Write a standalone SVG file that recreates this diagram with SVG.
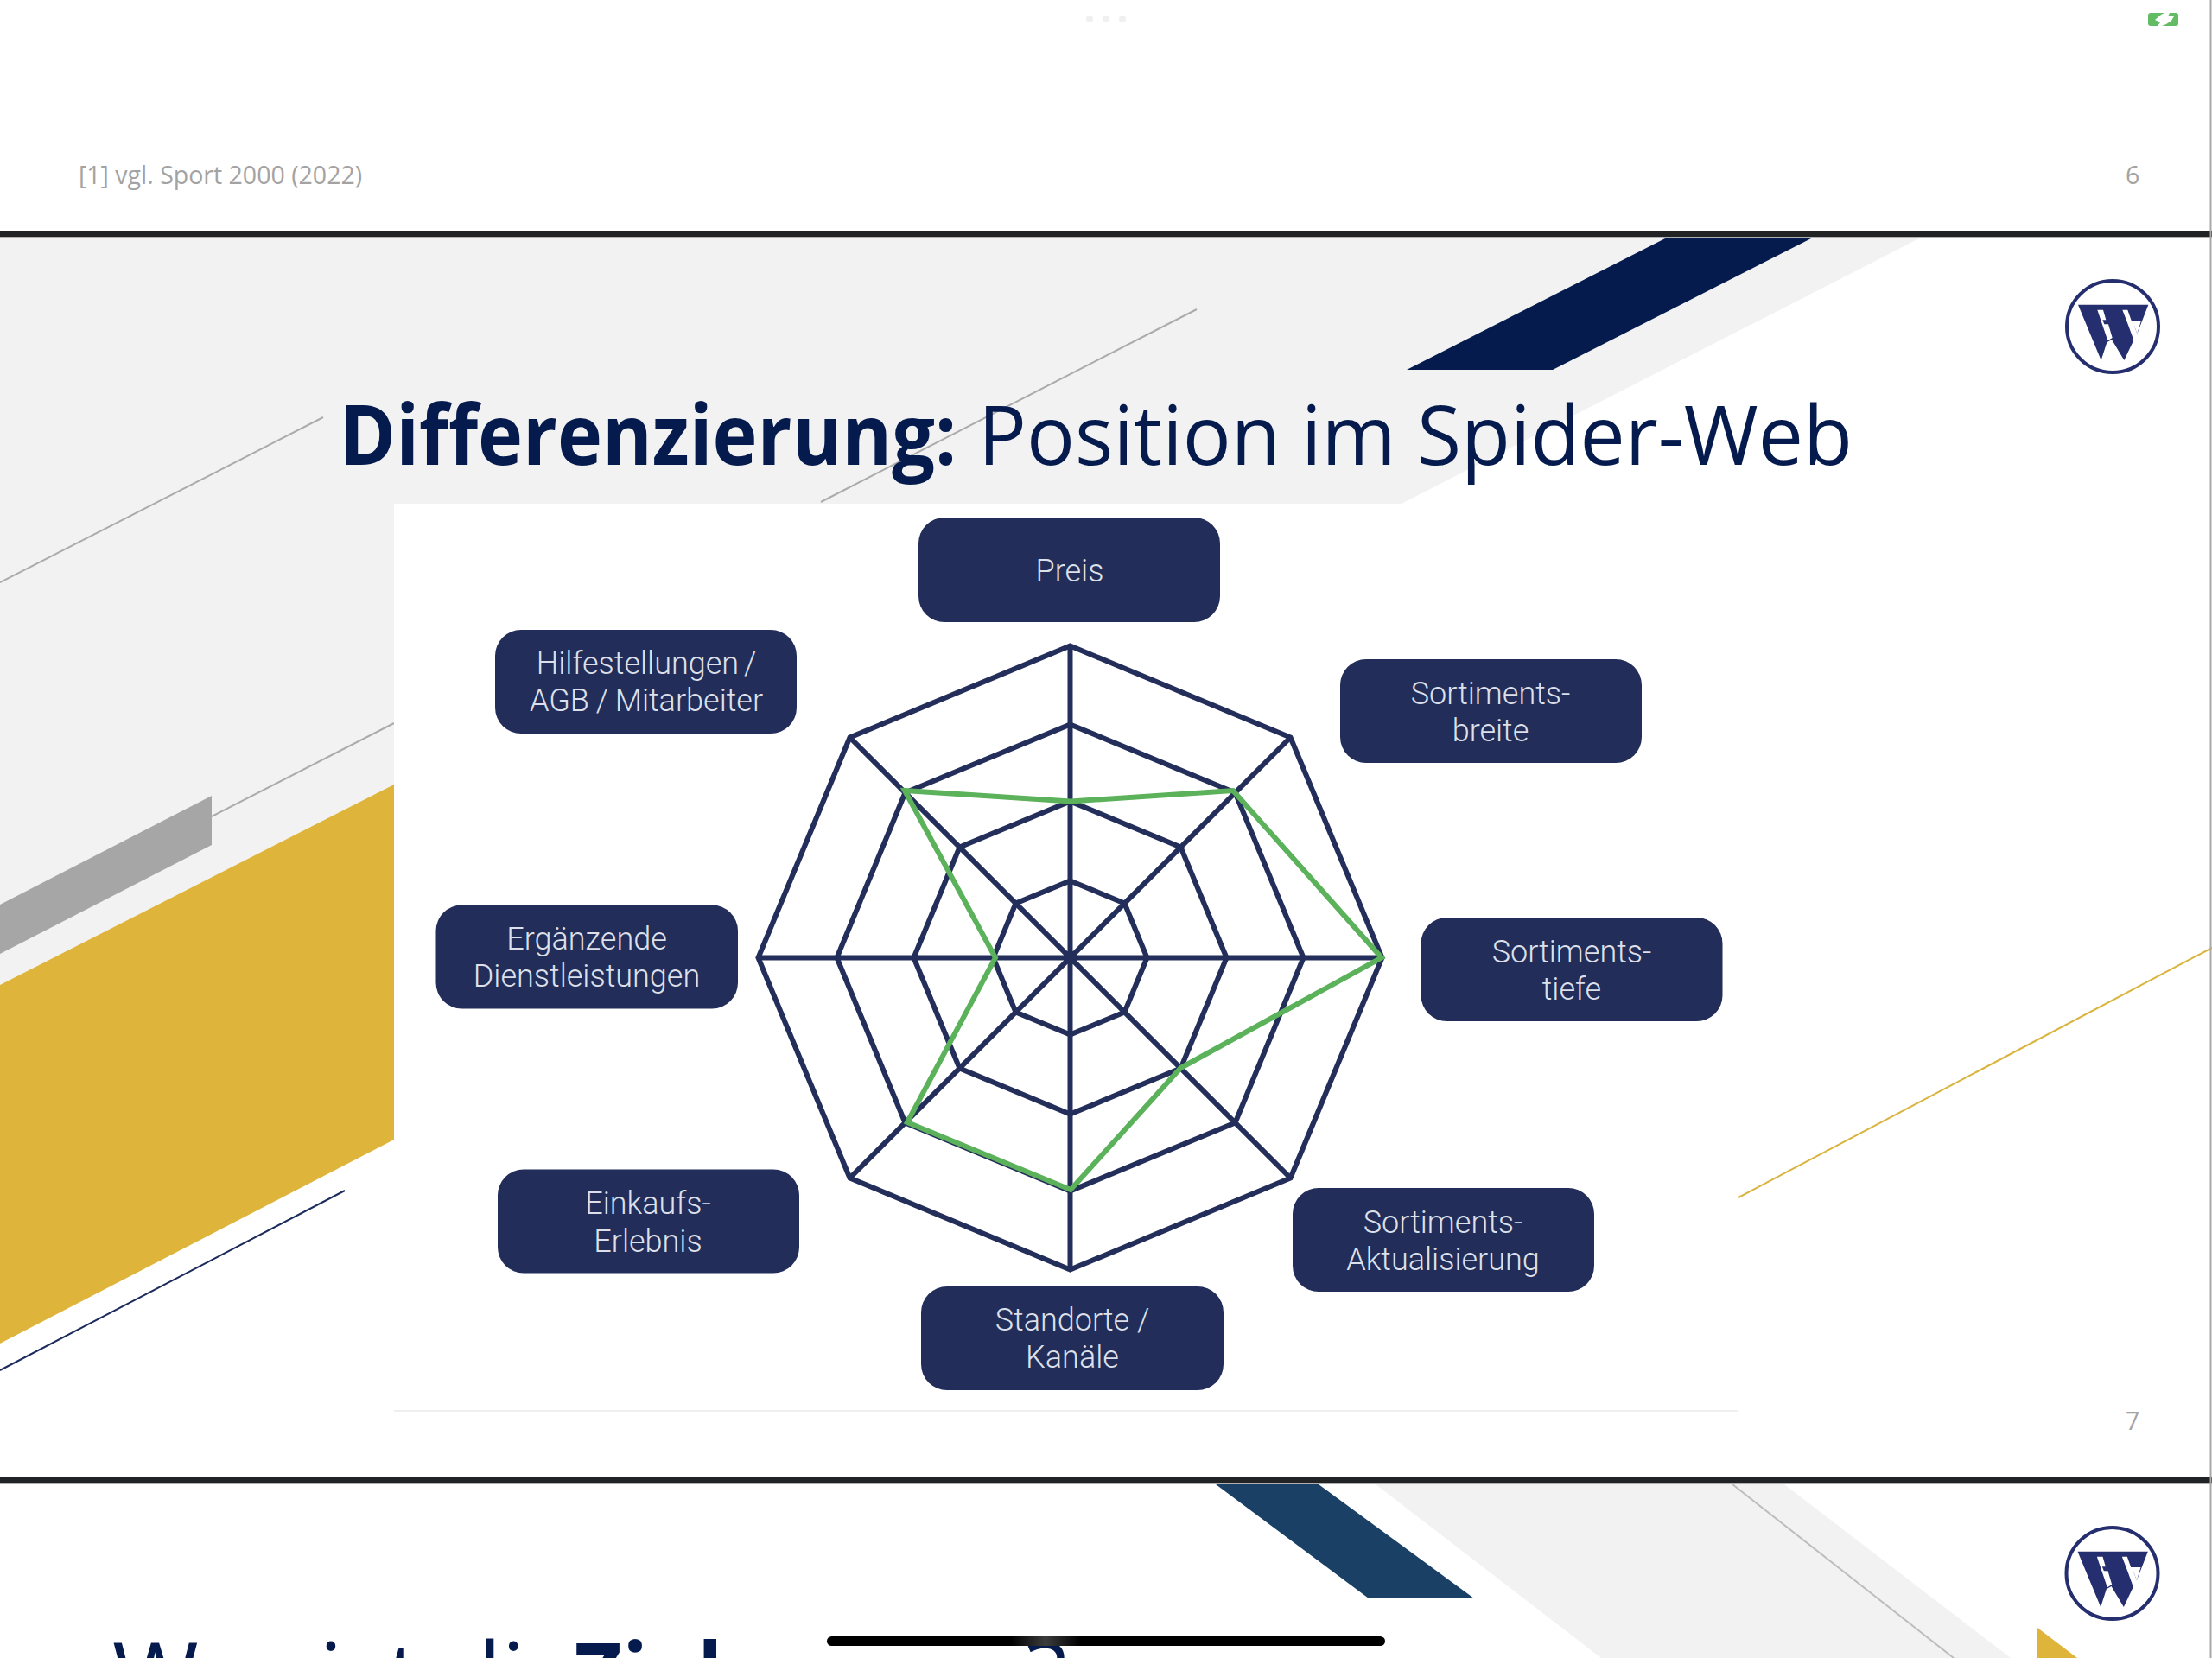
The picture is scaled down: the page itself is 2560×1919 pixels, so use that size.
<svg xmlns="http://www.w3.org/2000/svg" width="2560" height="1919" viewBox="0 0 2560 1919">
<style>
.title{font-family:"Open Sans","Noto Sans",sans-serif;font-size:96px;fill:#051A4D}
.big{font-size:108px}
.b{font-weight:700}
.foot{font-family:"Open Sans","Noto Sans",sans-serif;font-size:28.5px;fill:#A3A3A3}
.box{fill:#222D59}
.lbl{font-family:Roboto,"Liberation Sans",sans-serif;font-weight:300;font-size:36px;fill:#DDE0EA;text-anchor:middle}
.ring{fill:none;stroke:#232E5A;stroke-width:6;stroke-linejoin:miter}
.spoke{stroke:#232E5A;stroke-width:6;fill:none}
.logoring{fill:#fff;stroke:#252E6E;stroke-width:4}
.logo{fill:#252E6E}
.logocut{fill:#fff}
</style>
<defs>
<linearGradient id="glow" x1="0" x2="1" y1="0" y2="0"><stop offset="0" stop-color="#000"/><stop offset=".5" stop-color="#3C3C3C"/><stop offset="1" stop-color="#000"/></linearGradient>
<g id="logomark">
<circle class="logoring" cx="0" cy="0" r="53"/>
<g transform="translate(-164.3 -121) scale(.3333)">
<polygon class="logo" points="373,287 617,287 578,388 568,360 548,360 566,410 533,480 490,408 473,418 453,480"/>
<polygon class="logocut" points="440,305 460,305 470,340 458,340 464,355 478,355 492,402 476,412"/>
<polygon class="logocut" points="527,305 545,305 558,342 592,342 578,388 568,360 548,360"/>
</g>
</g>
</defs>
<rect width="2560" height="1919" fill="#fff"/>

<g id="slide-6">
<circle cx="1261" cy="22" r="4" fill="#F0F0F0"/><circle cx="1280" cy="22" r="4" fill="#F0F0F0"/><circle cx="1299" cy="22" r="4" fill="#F0F0F0"/>
<g id="expand-icon">
<rect x="2486" y="15" width="35" height="15" rx="3" fill="#63BB63"/>
<polygon points="2494,23 2501,17 2505,15 2511,15 2509,19 2516,19 2513,24 2507,28 2502,30 2497,30 2500,26" fill="#fff"/>
</g>
<text class="foot" x="91" y="213">[1] vgl. Sport 2000 (2022)</text>
<text class="foot" x="2460" y="213">6</text>
</g>

<g id="dividers">
<rect x="0" y="267" width="2560" height="7" fill="#222325"/>
<rect x="0" y="1710" width="2560" height="7" fill="#222325"/>
<rect x="0" y="274" width="2560" height="1" fill="#B0B0B0"/>
<rect x="0" y="1717" width="2560" height="1" fill="#B0B0B0"/>
</g>

<g id="slide-7-background">
<polygon points="0,275 2223,275 1622,583 456,583 456,908 0,1140" fill="#F2F2F2"/>
<polygon points="1929,275 2098,275 1797,428 1628,428" fill="#051A4D"/>
<polygon points="0,1047 245,921 245,978 0,1104" fill="#A6A6A6"/>
<polygon points="0,1140 456,908 456,1319 0,1555" fill="#DFB43B"/>
<line x1="245" y1="945" x2="456" y2="837" stroke="#ABABAB" stroke-width="2"/>
<line x1="0" y1="674" x2="374" y2="483" stroke="#ABABAB" stroke-width="2"/>
<line x1="950" y1="581" x2="1385" y2="358" stroke="#ABABAB" stroke-width="2"/>
<line x1="0" y1="1586" x2="399" y2="1378" stroke="#1C2B5C" stroke-width="2"/>
<line x1="2012" y1="1386" x2="2560" y2="1097" stroke="#D9B43F" stroke-width="2"/>
</g>

<g id="slide-7-title">
<text class="title b" x="393" y="538" textLength="714" lengthAdjust="spacingAndGlyphs">Differenzierung:</text>
<text class="title" x="1132" y="538" textLength="1012" lengthAdjust="spacingAndGlyphs">Position im Spider-Web</text>
</g>
<use id="logo-7" href="#logomark" x="2445" y="378"/>
<text class="foot" x="2460" y="1655">7</text>

<g id="picture">
<rect x="456" y="583" width="1555" height="1050" fill="#fff"/>
<line x1="456" y1="1633" x2="2011" y2="1633" stroke="#EFEFEF" stroke-width="2"/>
</g>

<g id="connectors">
<g id="web">
<polygon class="ring" points="1238.5,747.5 1493.5,853.5 1599.5,1108.5 1493.5,1363.5 1238.5,1469.5 983.5,1363.5 877.5,1108.5 983.5,853.5"/>
<polygon class="ring" points="1238.5,838.5 1429.5,917.5 1508.5,1108.5 1429.5,1299.5 1238.5,1378.5 1047.5,1299.5 968.5,1108.5 1047.5,917.5"/>
<polygon class="ring" points="1238.5,927.5 1366.5,980.5 1419.5,1108.5 1366.5,1236.5 1238.5,1289.5 1110.5,1236.5 1057.5,1108.5 1110.5,980.5"/>
<polygon class="ring" points="1238.5,1019.5 1301.5,1045.5 1327.5,1108.5 1301.5,1171.5 1238.5,1197.5 1175.5,1171.5 1149.5,1108.5 1175.5,1045.5"/>
<path class="spoke" d="M1238.5 747.5V1469.5M877.5 1108.5H1599.5M983.5 853.5L1493.5 1363.5M1493.5 853.5L983.5 1363.5"/>
</g>
<polygon id="profile" points="1047,915 1239,927.5 1427,915 1599,1108.5 1366.5,1236 1239,1377 1050,1299 1152,1108.5" fill="none" stroke="#5BB25B" stroke-width="6" stroke-linejoin="miter"/>
</g>

<g id="node-preis"><rect class="box" x="1063" y="599" width="349" height="121" rx="30"/><text class="lbl" x="1238" y="673">Preis</text></g>
<g id="node-hilfe"><rect class="box" x="573" y="729" width="349" height="120" rx="30"/><text class="lbl" x="748" y="780" word-spacing="-3">Hilfestellungen /</text><text class="lbl" x="748" y="823" word-spacing="-1">AGB / Mitarbeiter</text></g>
<g id="node-breite"><rect class="box" x="1551" y="763" width="349" height="120" rx="30"/><text class="lbl" x="1725" y="815">Sortiments-</text><text class="lbl" x="1725" y="858">breite</text></g>
<g id="node-tiefe"><rect class="box" x="1644.5" y="1062" width="349" height="120" rx="30"/><text class="lbl" x="1819" y="1114">Sortiments-</text><text class="lbl" x="1819" y="1157">tiefe</text></g>
<g id="node-dienst"><rect class="box" x="504.5" y="1047.5" width="349.5" height="120" rx="30"/><text class="lbl" x="679" y="1099">Ergänzende</text><text class="lbl" x="679" y="1142">Dienstleistungen</text></g>
<g id="node-einkauf"><rect class="box" x="576" y="1353.5" width="349" height="120" rx="30"/><text class="lbl" x="750" y="1405">Einkaufs-</text><text class="lbl" x="750" y="1449">Erlebnis</text></g>
<g id="node-standorte"><rect class="box" x="1066" y="1489" width="350" height="120" rx="30"/><text class="lbl" x="1241" y="1540">Standorte /</text><text class="lbl" x="1241" y="1583">Kanäle</text></g>
<g id="node-aktual"><rect class="box" x="1496" y="1375" width="349" height="120" rx="30"/><text class="lbl" x="1670" y="1427">Sortiments-</text><text class="lbl" x="1670" y="1470">Aktualisierung</text></g>

<g id="slide-8">
<polygon points="1592,1718 2065,1718 2327,1919 1853,1919" fill="#F2F2F2"/>
<polygon points="1407,1718 1526,1718 1706,1850 1584,1850" fill="#1A4066"/>
<line x1="2005" y1="1718" x2="2261" y2="1919" stroke="#BDBDBD" stroke-width="2"/>
<polygon points="2358,1884 2404,1919 2358,1919" fill="#DFB43B"/>
<use id="logo-8" href="#logomark" x="2444.5" y="1821"/>
<text class="title big" x="130" y="1979">Was ist die</text>
<text class="title big b" x="664" y="1979" textLength="515" lengthAdjust="spacingAndGlyphs">Zielgruppe</text>
<text class="title big" x="1188" y="1979">?</text>
</g>

<rect id="home-bar" x="957" y="1894" width="646" height="11" rx="5.5" fill="#000"/>
<rect x="1170" y="1894" width="80" height="11" fill="url(#glow)"/>
<rect id="right-edge" x="2557.5" y="0" width="2" height="1919" fill="#A8A8A8"/>
</svg>
